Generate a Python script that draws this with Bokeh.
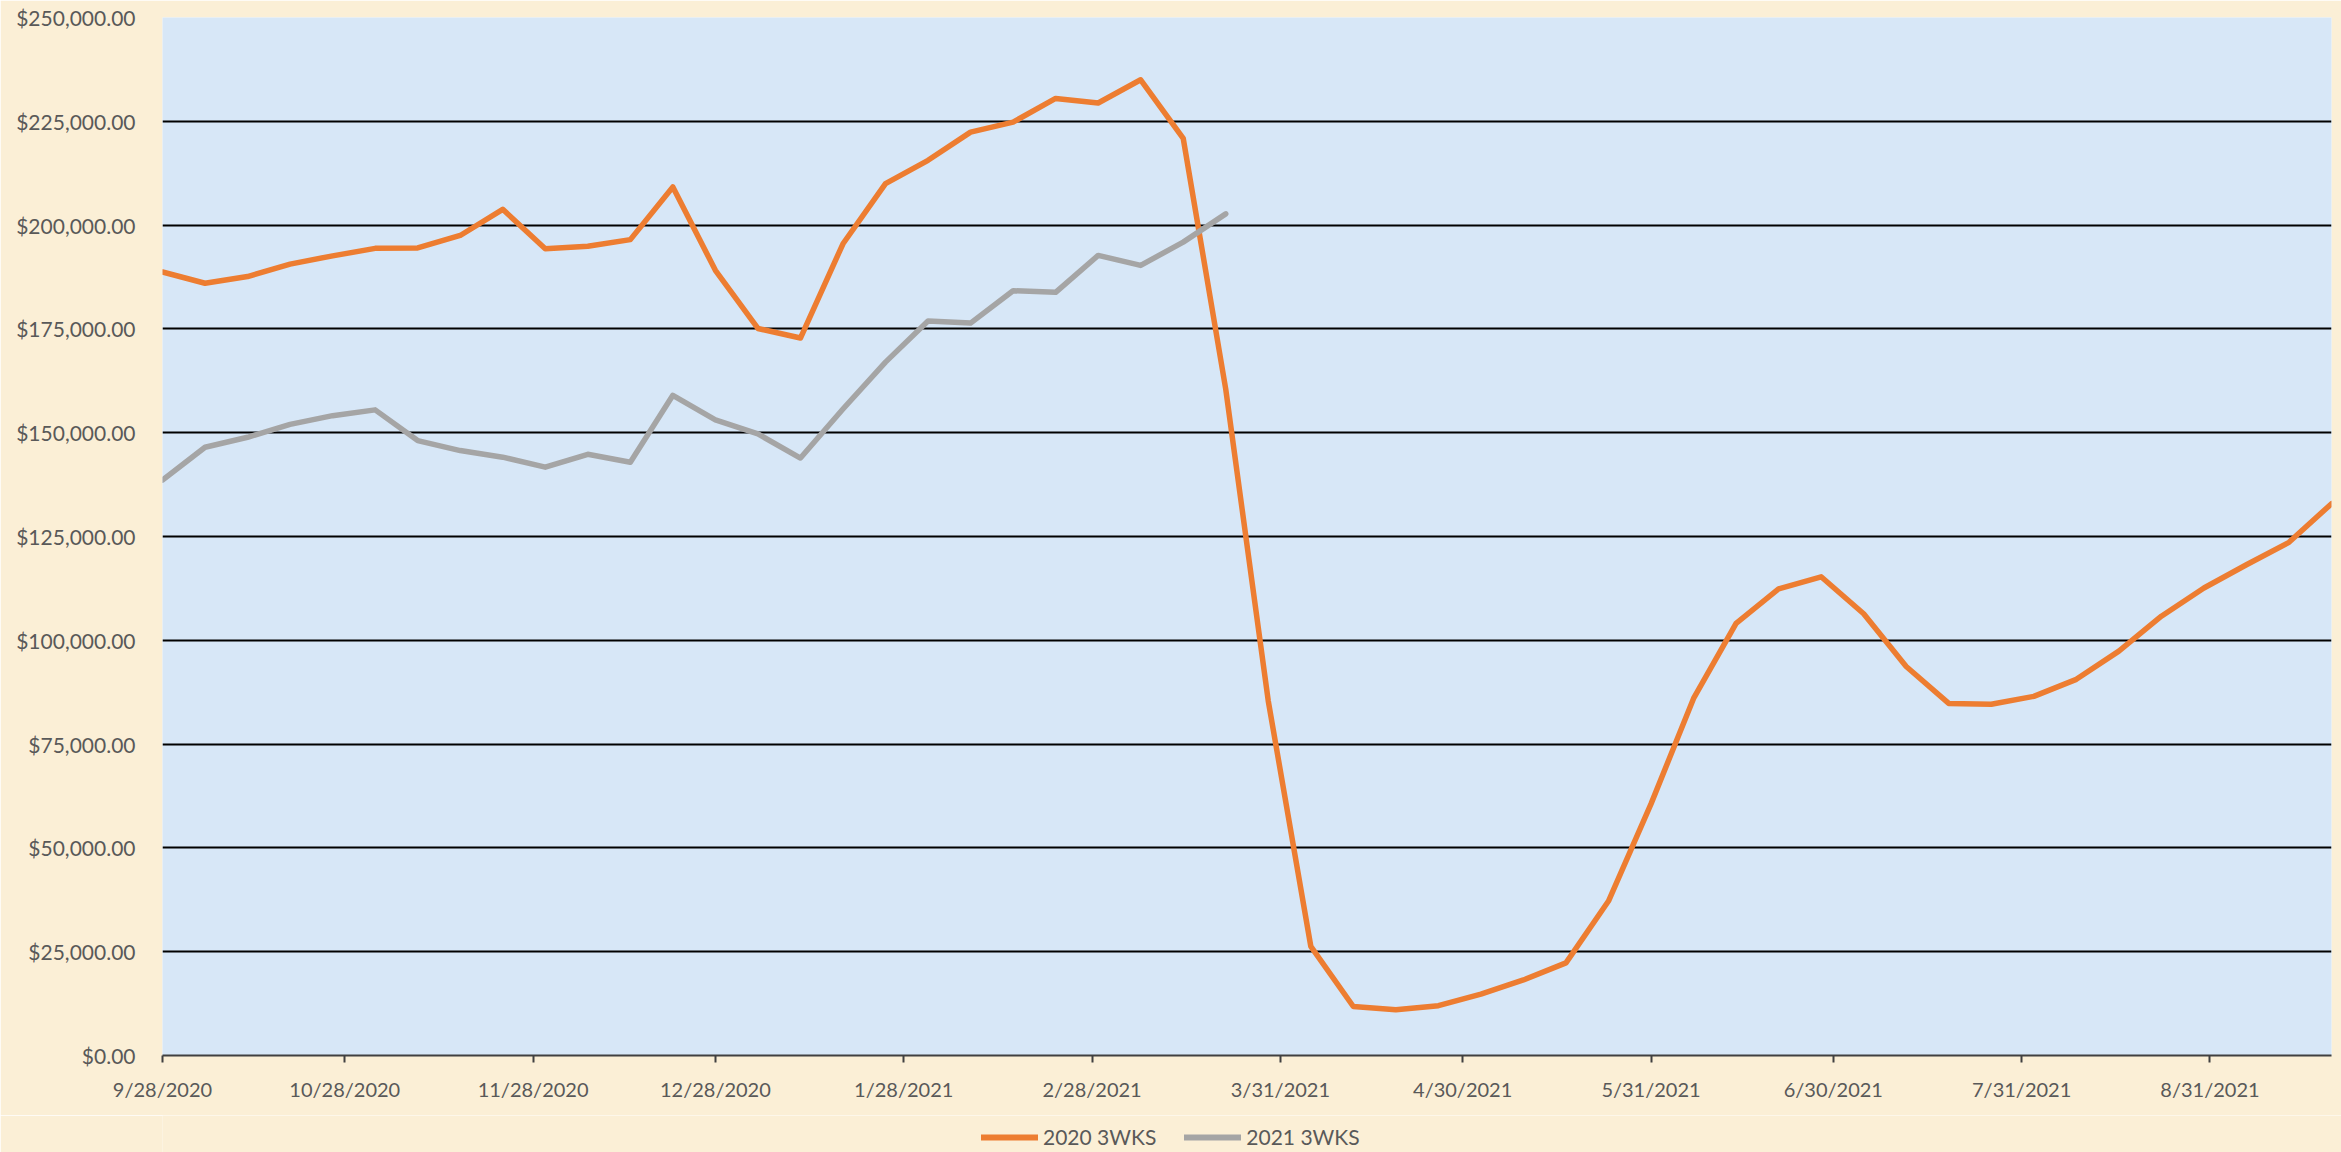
import pandas as pd
from bokeh.plotting import figure
from bokeh.layouts import column
from bokeh.models import (Range1d, FixedTicker, NumeralTickFormatter, Legend,
                          LegendItem, ColumnDataSource)
from bokeh.embed import file_html
from bokeh.resources import INLINE

# ---------------- data ----------------
week_dates = pd.date_range("2020-09-28", periods=52, freq="7D")

sales_2020_3wks = [188700, 186000, 187600, 190600, 192600, 194400, 194500, 197500, 203800, 194300,
                   194900, 196500, 209200, 189100, 175100, 172800, 195500, 210000, 215600, 222400,
                   224800, 230500, 229400, 235000, 220900, 160500, 85400, 26300, 11800, 11000,
                   12000, 14800, 18200, 22300, 37200, 60600, 86000, 104100, 112400, 115300,
                   106400, 93700, 84800, 84600, 86500, 90600, 97400, 105800, 112600, 118200,
                   123600, 132900]

sales_2021_3wks = [138600, 146500, 148900, 152000, 154100, 155500, 148100, 145700, 144100, 141700,
                   144800, 142900, 159000, 153100, 149700, 143900, 155700, 167000, 176900, 176400,
                   184200, 183800, 192700, 190300, 195900, 202700]

x_tick_labels = ["9/28/2020", "10/28/2020", "11/28/2020", "12/28/2020", "1/28/2021", "2/28/2021",
                 "3/31/2021", "4/30/2021", "5/31/2021", "6/30/2021", "7/31/2021", "8/31/2021"]
y_ticks = [0, 25000, 50000, 75000, 100000, 125000, 150000, 175000, 200000, 225000, 250000]
series_names = ["2020 3WKS", "2021 3WKS"]
series_colors = ["#ED7D31", "#A5A5A5"]

# ---------------- styles ----------------
FONT = "Lato"
TEXT = "#595959"
CREAM = "#FBEFD6"
BLUE = "#D7E7F7"
LW = 5.5

# ---------------- main chart ----------------
main = figure(frame_width=2169, frame_height=1038, x_axis_type="datetime",
              output_backend="svg", toolbar_location=None,
              min_border_left=162, min_border_right=10, min_border_top=17, min_border_bottom=60,
              x_range=Range1d(week_dates[0], week_dates[-1]),
              y_range=Range1d(y_ticks[0], y_ticks[-1]))
main.border_fill_color = CREAM
main.background_fill_color = BLUE
main.outline_line_color = None

src20 = ColumnDataSource(dict(d=week_dates, v=sales_2020_3wks))
src21 = ColumnDataSource(dict(d=week_dates[:len(sales_2021_3wks)], v=sales_2021_3wks))

main.line("d", "v", source=src20, line_color=series_colors[0], line_width=LW,
          line_join="round", line_cap="round")
main.line("d", "v", source=src21, line_color=series_colors[1], line_width=LW,
          line_join="round", line_cap="round")

# x axis
tick_ms = [int(pd.to_datetime(t, format="%m/%d/%Y").value // 10**6) for t in x_tick_labels]
xa = main.xaxis[0]
xa.ticker = FixedTicker(ticks=tick_ms)
xa.major_label_overrides = {ms: lab for ms, lab in zip(tick_ms, x_tick_labels)}
xa.axis_line_color = "#404040"
xa.axis_line_width = 2
xa.major_tick_line_color = "#404040"
xa.major_tick_line_width = 2
xa.major_tick_in = 0
xa.major_tick_out = 7
xa.minor_tick_line_color = None
xa.major_label_standoff = 14
xa.major_label_text_font = FONT
xa.major_label_text_font_size = "20px"
xa.major_label_text_color = TEXT

# y axis
ya = main.yaxis[0]
ya.ticker = FixedTicker(ticks=y_ticks)
ya.formatter = NumeralTickFormatter(format="$0,0.00")
ya.axis_line_color = None
ya.major_tick_line_color = None
ya.minor_tick_line_color = None
ya.major_label_standoff = 21
ya.major_label_text_font = FONT
ya.major_label_text_font_size = "21px"
ya.major_label_text_color = TEXT

# grid
main.xgrid.grid_line_color = None
main.ygrid.ticker = FixedTicker(ticks=y_ticks)
main.ygrid.grid_line_color = "#000000"
main.ygrid.grid_line_width = 2

# ---------------- legend strip below the chart ----------------
# same series sources, but this strip's y range lies below all values, so only the legend shows
leg = figure(frame_width=2341, frame_height=37, output_backend="svg", toolbar_location=None,
             min_border=0, x_axis_location=None, y_axis_location=None, x_axis_type="datetime",
             x_range=Range1d(week_dates[0], week_dates[-1]), y_range=Range1d(-20, -10))
leg.border_fill_color = CREAM
leg.background_fill_color = CREAM
leg.outline_line_color = None
leg.xgrid.grid_line_color = None
leg.ygrid.grid_line_color = None

k20 = leg.line("d", "v", source=src20, line_color=series_colors[0], line_width=6, line_cap="round")
k21 = leg.line("d", "v", source=src21, line_color=series_colors[1], line_width=6, line_cap="round")

legend = Legend(items=[LegendItem(label=series_names[0], renderers=[k20]),
                       LegendItem(label=series_names[1], renderers=[k21])],
                orientation="horizontal", location=(978, 0),
                background_fill_alpha=0, border_line_alpha=0,
                label_text_font=FONT, label_text_font_size="21px", label_text_color=TEXT,
                glyph_width=57, glyph_height=20, spacing=28, label_standoff=5,
                padding=3, margin=0)
leg.add_layout(legend, "center")

p = column(main, leg, spacing=0)

open("out.html", "w").write(file_html(p, INLINE))
